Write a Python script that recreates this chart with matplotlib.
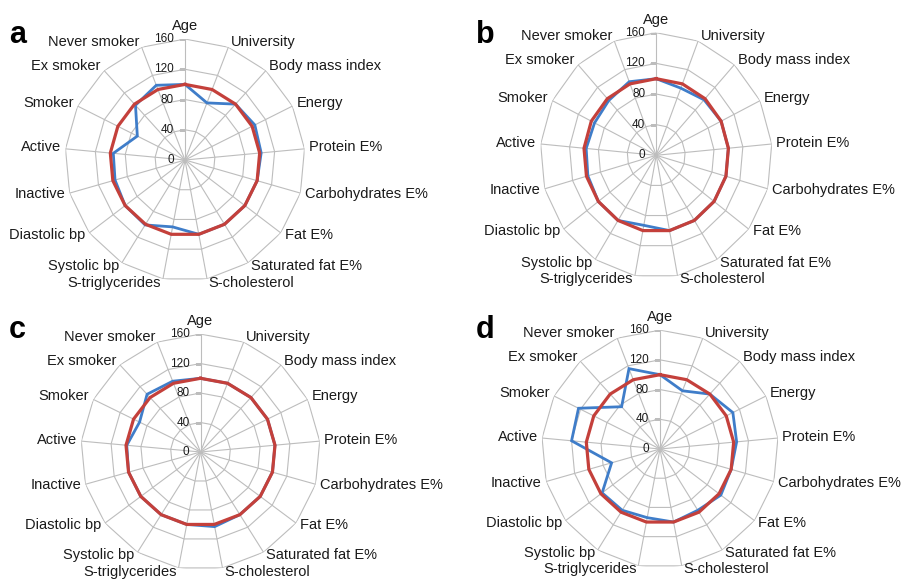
import numpy as np
import matplotlib
matplotlib.use("Agg")
import matplotlib.pyplot as plt

plt.rcParams['font.family'] = ['Liberation Sans', 'DejaVu Sans']

# ---------------- data ----------------
variables = ["Age", "University", "Body mass index", "Energy", "Protein E%",
             "Carbohydrates E%", "Fat E%", "Saturated fat E%", "S-cholesterol",
             "S-triglycerides", "Systolic bp", "Diastolic bp", "Inactive",
             "Active", "Smoker", "Ex smoker", "Never smoker"]

reference = [100, 100, 100, 100, 100, 100, 100, 100, 100,
             100, 100, 100, 100, 100, 100, 100, 100]

panel_a = [100, 81, 100, 104, 102, 100, 100, 100, 100, 90, 101, 100, 97, 96, 71, 98, 106]
panel_b = [100, 94, 98, 100, 100, 100, 100, 100, 100, 93, 100, 100, 98, 97, 95, 97, 103]
panel_c = [100, 100, 100, 100, 100, 100, 100, 100, 103, 100, 100, 100, 100, 99, 91, 106, 103]
panel_d = [100, 84, 100, 110, 104, 100, 103, 97, 100, 94, 97, 98, 68, 120, 123, 77, 116]

tick_values = [0, 40, 80, 120, 160]
tick_labels = ["0", "40", "80", "120", "160"]
panel_letters = ["a", "b", "c", "d"]

# ---------------- layout / style ----------------
W, H = 919, 581
BLUE = "#3F7DC9"
RED = "#C4403B"
GRID = "#BDBDBD"
TXT = "#1A1A1A"

# centre x, centre y (px, from top), px per 100 units horizontally, vertically
layout = [(185.0, 160.0, 75.0, 75.6),
          (656.2, 155.3, 72.5, 76.6),
          (200.5, 452.0, 74.8, 73.7),
          (660.0, 449.0, 74.0, 74.3)]
letter_pos = [(9, 42.7), (476, 42.7), (9, 338.3), (476, 338.3)]
series = [panel_a, panel_b, panel_c, panel_d]

fig = plt.figure(figsize=(W / 100, H / 100), dpi=100)

n = len(variables)
theta = np.arange(n) * 2 * np.pi / n
theta_closed = np.append(theta, theta[0])

for (cx, cy, rx, ry), vals, letter, (lx, ly) in zip(layout, series, panel_letters, letter_pos):
    Rx = rx * 1.6
    Ry = ry * 1.6
    rect = [(cx - Rx) / W, 1 - (cy + Ry) / H, 2 * Rx / W, 2 * Ry / H]
    ax = fig.add_axes(rect, projection='polar')
    ax.set_aspect('auto')
    ax.set_theta_zero_location('N')
    ax.set_theta_direction(-1)
    ax.set_ylim(0, 160)
    ax.axis('off')

    # polygon grid rings
    for r in tick_values[1:]:
        ax.plot(theta_closed, [r] * (n + 1), color=GRID, lw=0.8, zorder=1)
    # spokes
    for t in theta:
        ax.plot([t, t], [0, 160], color=GRID, lw=0.8, zorder=1)
    # tick marks on the vertical axis
    for r in tick_values[1:]:
        ax.plot([0], [r], marker=0, markersize=4, color=GRID, mew=0.8, zorder=1)
    # tick labels
    for r, lab in zip(tick_values, tick_labels):
        ax.annotate(lab, xy=(0, r), xytext=(-11, 0), textcoords='offset pixels',
                    ha='right', va='center', fontsize=8.5, color=TXT,
                    annotation_clip=False)

    # data lines
    ax.plot(theta_closed, list(vals) + [vals[0]], color=BLUE, lw=2.0, zorder=3,
            solid_joinstyle='miter')
    ax.plot(theta_closed, list(reference) + [reference[0]], color=RED, lw=2.3,
            zorder=4, solid_joinstyle='miter')

    # category labels
    for t, name in zip(theta, variables):
        s, c = np.sin(t), np.cos(t)
        if abs(s) < 0.05:
            ax.annotate(name, xy=(t, 160), xytext=(0, 6), textcoords='offset pixels',
                        ha='center', va='bottom', fontsize=10.5, color=TXT,
                        annotation_clip=False)
            continue
        ha = 'left' if s > 0 else 'right'
        dx = np.sign(s) * (1.2 + 3.2 * abs(s))
        dy = (1.0 + 4.5 * c) if c > 0 else 3.7 * c
        ax.annotate(name, xy=(t, 160), xytext=(dx, dy), textcoords='offset pixels',
                    ha=ha, va='center', fontsize=10.5, color=TXT,
                    annotation_clip=False)

    fig.text(lx / W, 1 - ly / H, letter, fontsize=22, fontweight='bold',
             ha='left', va='baseline', color='black')

fig.savefig("out.png", dpi=100)
